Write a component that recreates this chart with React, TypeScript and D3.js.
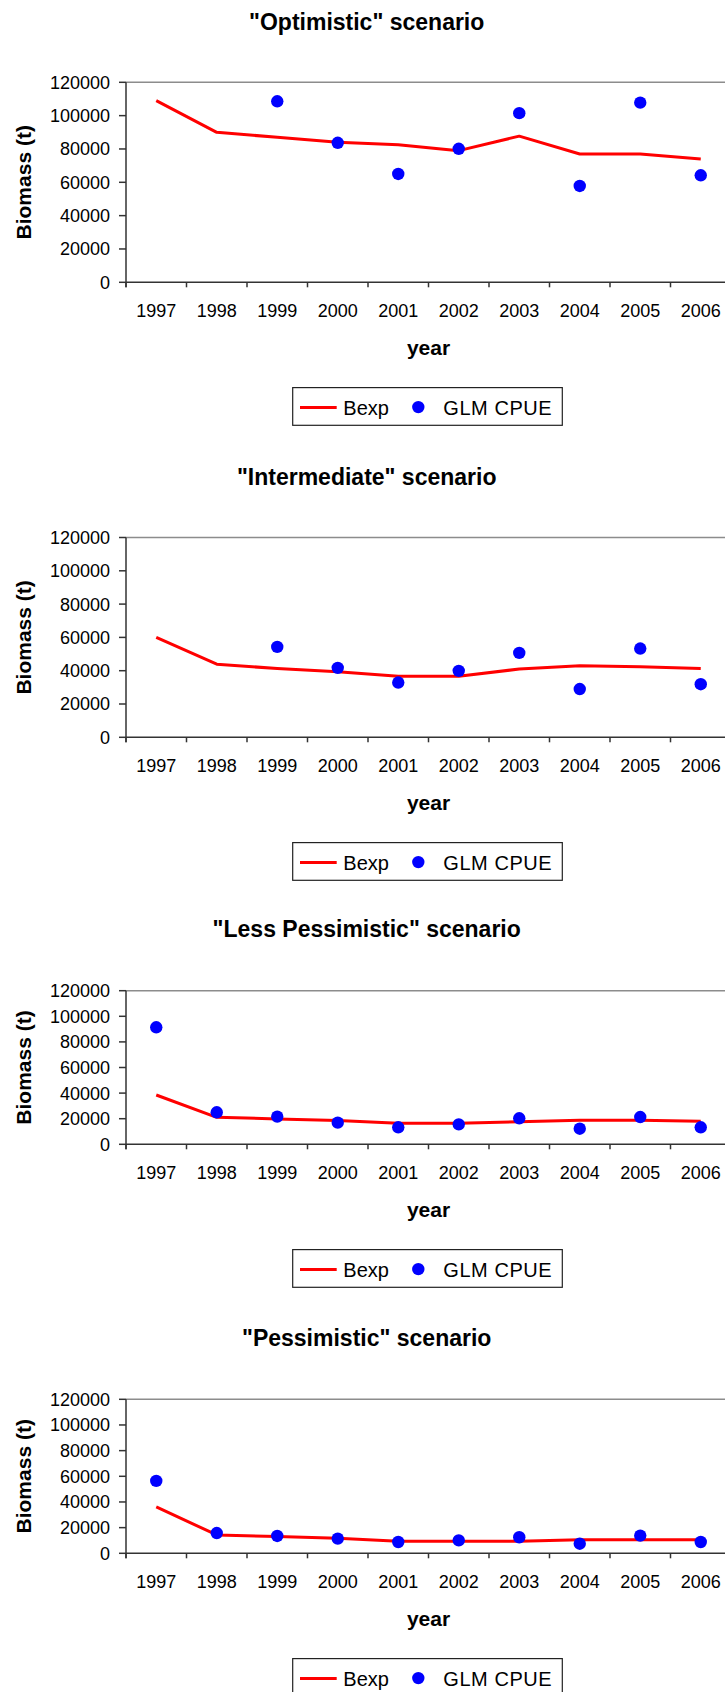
import React from 'react';
import * as d3 from 'd3';

const years = ['1997', '1998', '1999', '2000', '2001', '2002', '2003', '2004', '2005', '2006'];
const yTicks = [0, 20000, 40000, 60000, 80000, 100000, 120000];

const titles = [
  '"Optimistic" scenario',
  '"Intermediate" scenario',
  '"Less Pessimistic" scenario',
  '"Pessimistic" scenario',
];

const bexpOptimistic = [109000, 90000, 87000, 84000, 82500, 79000, 87700, 77000, 77000, 74000];
const glmOptimistic = [null, null, 108600, 83700, 65000, 80100, 101500, 57800, 107800, 64200];

const bexpIntermediate = [60000, 43900, 41300, 39300, 36700, 36700, 41000, 43000, 42300, 41300];
const glmIntermediate = [null, null, 54300, 41700, 32900, 39900, 50700, 29000, 53300, 31900];

const bexpLessPessimistic = [38500, 21100, 19800, 18500, 16400, 16400, 17700, 18700, 18700, 18000];
const glmLessPessimistic = [91400, 25000, 21600, 16900, 13300, 15600, 20300, 12200, 21300, 13300];

const bexpPessimistic = [36100, 14300, 13000, 11700, 9400, 9400, 9400, 10600, 10600, 10600];
const glmPessimistic = [56400, 15800, 13500, 11400, 8800, 10100, 12500, 7500, 13800, 8800];

const seriesBexp = [bexpOptimistic, bexpIntermediate, bexpLessPessimistic, bexpPessimistic];
const seriesGlm = [glmOptimistic, glmIntermediate, glmLessPessimistic, glmPessimistic];

// layout (pixel positions) per panel
const panelLayout = [
  { titleY: 30, top: 82.3, bottom: 282.3 },
  { titleY: 485, top: 537.5, bottom: 737.3 },
  { titleY: 936.6, top: 990.7, bottom: 1144.3 },
  { titleY: 1346, top: 1399.3, bottom: 1553.3 },
];

const W = 725;
const H = 1692;
const plotLeft = 126;
const plotRight = 731;
const FONT = '"Liberation Sans", Arial, Helvetica, sans-serif';

function Panel({ idx }: { idx: number }) {
  const L = panelLayout[idx];
  const x = d3.scaleBand<string>().domain(years).range([plotLeft, plotRight]).padding(0);
  const y = d3.scaleLinear().domain([0, 120000]).range([L.bottom, L.top]);
  const cx = (d: string) => (x(d) as number) + x.bandwidth() / 2;
  const bexp = seriesBexp[idx];
  const glm = seriesGlm[idx];
  const line = d3
    .line<number>()
    .x((_, i) => cx(years[i]))
    .y((v) => y(v));
  const centerX = (plotLeft + plotRight) / 2;
  const midY = (L.top + L.bottom) / 2;
  const legTop = L.bottom + 105.3;
  const legLeft = 292.7;
  const tickBounds = years.map((yr) => x(yr) as number).concat([plotRight]);

  return (
    <g>
      <text x={366.7} y={L.titleY} textAnchor="middle" fontFamily={FONT} fontWeight="bold" fontSize={23} fill="#000">
        {titles[idx]}
      </text>
      {/* plot top border */}
      <line x1={plotLeft} x2={plotRight} y1={L.top} y2={L.top} stroke="#8c8c8c" strokeWidth={1.5} />
      {/* y axis */}
      <line x1={plotLeft} x2={plotLeft} y1={L.top} y2={L.bottom + 5} stroke="#333" strokeWidth={1.5} />
      {yTicks.map((t) => (
        <g key={t}>
          <line x1={plotLeft - 7} x2={plotLeft} y1={y(t)} y2={y(t)} stroke="#333" strokeWidth={1.5} />
          <text x={110} y={y(t)} dy="0.36em" textAnchor="end" fontFamily={FONT} fontSize={18} fill="#000">
            {t}
          </text>
        </g>
      ))}
      {/* x axis */}
      <line x1={plotLeft} x2={plotRight} y1={L.bottom} y2={L.bottom} stroke="#333" strokeWidth={1.5} />
      {tickBounds.map((b, i) => (
        <line key={i} x1={b} x2={b} y1={L.bottom} y2={L.bottom + 5} stroke="#333" strokeWidth={1.5} />
      ))}
      {years.map((yr) => (
        <text key={yr} x={cx(yr)} y={L.bottom + 34.5} textAnchor="middle" fontFamily={FONT} fontSize={18} fill="#000">
          {yr}
        </text>
      ))}
      <text x={centerX} y={L.bottom + 72.5} textAnchor="middle" fontFamily={FONT} fontWeight="bold" fontSize={21} fill="#000">
        year
      </text>
      <text
        transform={`translate(30.5,${midY}) rotate(-90)`}
        textAnchor="middle"
        fontFamily={FONT}
        fontWeight="bold"
        fontSize={21}
        fill="#000"
      >
        Biomass (t)
      </text>
      {/* data */}
      <path d={line(bexp) || ''} fill="none" stroke="#ff0000" strokeWidth={3} strokeLinejoin="round" />
      {glm.map((v, i) =>
        v == null ? null : <circle key={i} cx={cx(years[i])} cy={y(v)} r={6.2} fill="#0000ff" />
      )}
      {/* legend */}
      <rect x={legLeft} y={legTop} width={269.6} height={37.7} fill="#fff" stroke="#222" strokeWidth={1.2} />
      <line x1={legLeft + 7.3} x2={legLeft + 44} y1={legTop + 20} y2={legTop + 20} stroke="#ff0000" strokeWidth={3} />
      <text x={legLeft + 50.6} y={legTop + 27} fontFamily={FONT} fontSize={20} fill="#000">
        Bexp
      </text>
      <circle cx={legLeft + 125.6} cy={legTop + 19.5} r={6.2} fill="#0000ff" />
      <text x={legLeft + 150.6} y={legTop + 27} fontFamily={FONT} fontSize={20} fill="#000" textLength={108.4}>
        GLM CPUE
      </text>
    </g>
  );
}

export default function App() {
  return (
    <svg
      width={W}
      height={H}
      viewBox={`0 0 ${W} ${H}`}
      style={{ position: 'absolute', left: 0, top: 0, background: '#fff', display: 'block' }}
    >
      <rect x={0} y={0} width={W} height={H} fill="#fff" />
      {[0, 1, 2, 3].map((i) => (
        <Panel key={i} idx={i} />
      ))}
    </svg>
  );
}
